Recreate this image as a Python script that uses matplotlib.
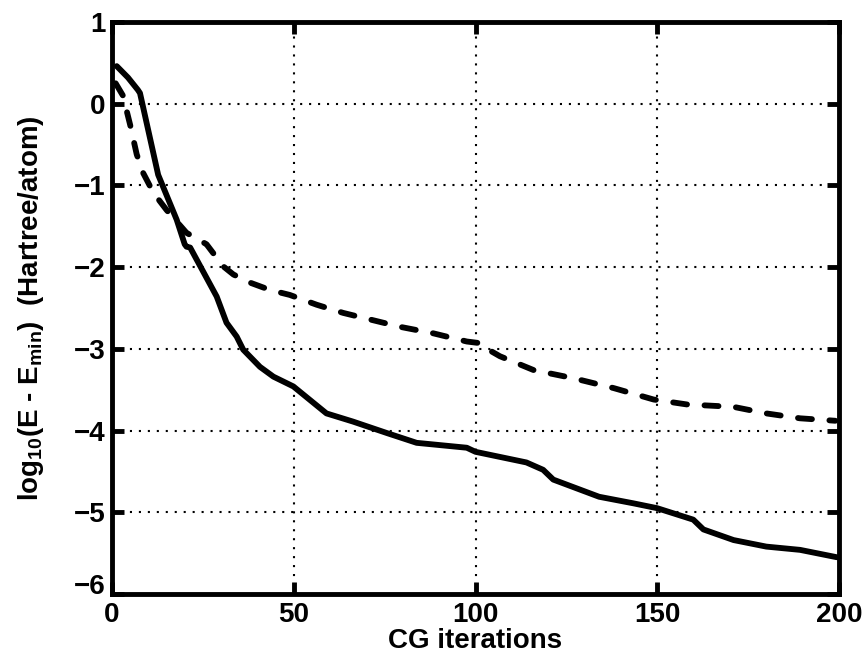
import matplotlib
matplotlib.use("Agg")
import matplotlib.pyplot as plt
import matplotlib.transforms as mtrans

plt.rcParams['font.family'] = ['Liberation Sans', 'DejaVu Sans']
plt.rcParams['font.weight'] = 'bold'
plt.rcParams['axes.labelweight'] = 'bold'
plt.rcParams['mathtext.fontset'] = 'custom'
plt.rcParams['mathtext.rm'] = 'Liberation Sans:bold'
plt.rcParams['mathtext.it'] = 'Liberation Sans:bold'
plt.rcParams['mathtext.bf'] = 'Liberation Sans:bold'

# Solid curve
solid_x = [1.3, 4.4, 7.1, 7.7, 12.7, 17.8, 20.0, 20.5, 21.5, 28.8, 31.5, 34.3, 36.1,
           40.7, 44.4, 49.9, 59.0, 66.3, 75.6, 83.8, 97.6, 100.0, 114.0, 118.6, 121.4,
           134.0, 143.4, 150.0, 159.9, 162.7, 171.0, 180.0, 189.3, 199.4]
solid_y = [0.46, 0.32, 0.17, 0.13, -0.87, -1.42, -1.72, -1.75, -1.76, -2.36, -2.68, -2.85, -3.01,
           -3.22, -3.34, -3.46, -3.79, -3.89, -4.03, -4.15, -4.21, -4.26, -4.39, -4.48, -4.60,
           -4.81, -4.89, -4.95, -5.09, -5.21, -5.34, -5.42, -5.46, -5.55]

# Dashed curve
dash_x = [1.0, 3.0, 5.0, 6.8, 8.6, 11.4, 15.0, 20.5, 26.0, 30.6, 33.4, 38.0, 43.5, 48.9,
          56.3, 63.6, 79.2, 88.4, 97.6, 101.2, 102.0, 106.7, 116.0, 127.0, 138.0, 149.0,
          158.1, 171.0, 180.0, 189.3, 199.0]
dash_y = [0.25, 0.10, -0.26, -0.62, -0.85, -1.09, -1.30, -1.58, -1.72, -1.99, -2.09, -2.19, -2.28, -2.34,
          -2.46, -2.56, -2.73, -2.81, -2.91, -2.93, -2.97, -3.09, -3.26, -3.36, -3.48, -3.62,
          -3.68, -3.71, -3.79, -3.85, -3.88]

xticks = [0, 50, 100, 150, 200]
yticks = [-6, -5, -4, -3, -2, -1, 0, 1]

fig = plt.figure(figsize=(8.68, 6.56), dpi=100)
ax = fig.add_axes([112/868, 1-594/656, (839-112)/868, (594-22)/656])

ax.plot(solid_x, solid_y, color='black', lw=4.2, solid_capstyle='round', solid_joinstyle='round')
ax.plot(dash_x, dash_y, color='black', lw=4.2, linestyle=(0, (2.4, 3.0)),
        dash_capstyle='round', dash_joinstyle='round')

ax.set_xlim(0, 200)
ax.set_ylim(-6, 1)
ax.set_xticks(xticks)
ax.set_yticks(yticks)
ax.grid(True, color='black', linestyle=(0, (1, 3.3)), lw=1.5)
for s in ax.spines.values():
    s.set_linewidth(3.5)
ax.tick_params(direction='in', length=8.5, width=3.5, top=True, right=True, labelsize=20)
ax.tick_params(axis='x', pad=6)
ax.tick_params(axis='y', pad=4.5)
ax.set_xlabel('CG iterations', fontsize=20, fontweight='bold', labelpad=0)
ax.set_ylabel(r'log$_{10}$(E - E$_{\mathrm{min}}$)  (Hartree/atom)', fontsize=20,
              fontweight='bold', labelpad=20)

lbl = ax.get_yticklabels()[0]
lbl.set_transform(lbl.get_transform() + mtrans.ScaledTranslation(0, 7/72, fig.dpi_scale_trans))

fig.savefig('out.png', dpi=100)
